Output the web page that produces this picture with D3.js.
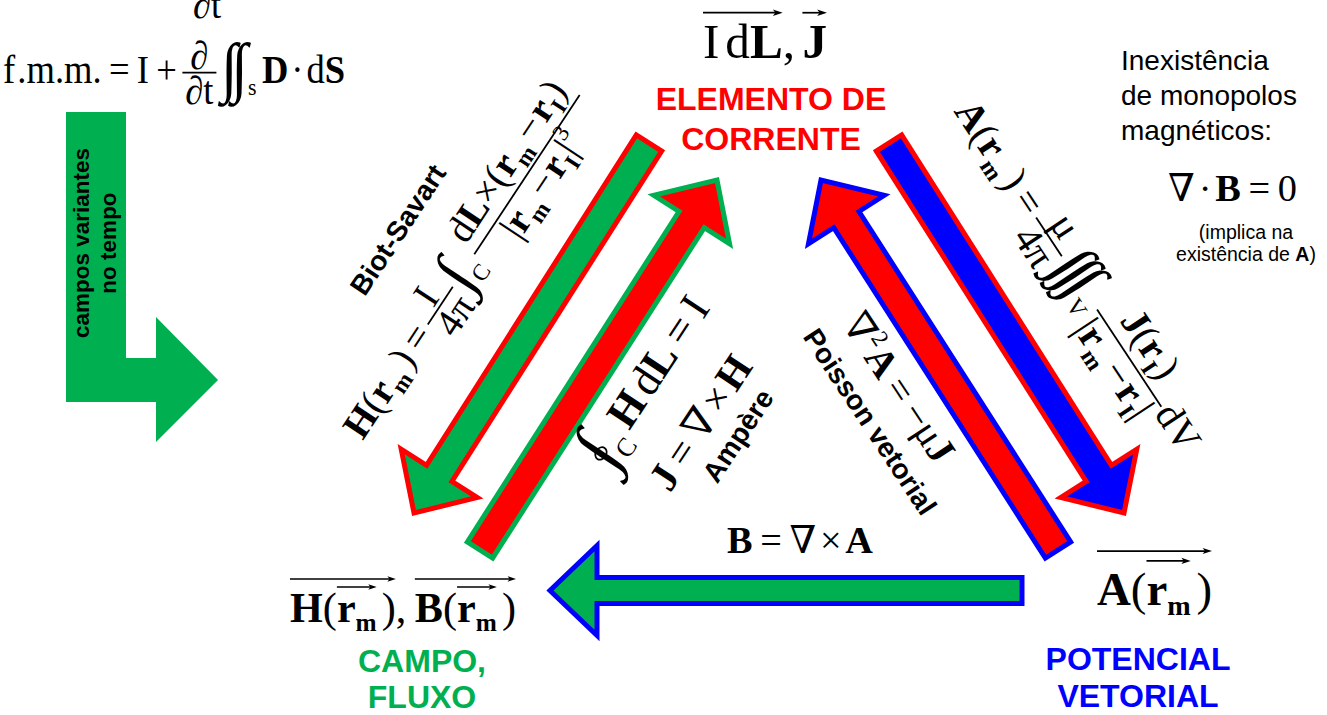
<!DOCTYPE html>
<html>
<head>
<meta charset="utf-8">
<script src="https://cdn.jsdelivr.net/npm/d3@7"></script>
<style>
  html, body { margin: 0; background: #fff; }
  svg { display: block; }
</style>
</head>
<body>
<main></main>
<script>
// ---- content ----
const nodeTitles = {
  corrente: ['ELEMENTO DE', 'CORRENTE'],
  campo: ['CAMPO,', 'FLUXO'],
  potencial: ['POTENCIAL', 'VETORIAL'],
};
const lawNames = ['Biot-Savart', 'Ampère', 'Poisson vetorial'];
const timeVarLines = ['campos variantes', 'no tempo'];
const monopoleLines = ['Inexistência', 'de monopolos', 'magnéticos:'];
const impliesLines = [['(implica na'], ['existência de ', 'A', ')']];

const arrowLinks = [
  ['corrente', 'campo'],
  ['campo', 'corrente'],
  ['potencial', 'corrente'],
  ['corrente', 'potencial'],
  ['potencial', 'campo'],
];

// math tokens: t = text, b = bold, s = relative size, dy = baseline shift (em)
const sub = t => ({ t, b: 1, s: 0.6, dy: 0.22 });
const rm = [{ t: 'r', b: 1 }, sub('m')];
const rI = [{ t: 'r', b: 1 }, sub('I')];
const integ = { t: '∫', s: 1.65, dy: 0.15 };
const integK = { t: '∫', s: 1.65, dy: 0.15, kern: -0.17 };

const sourceVec = [
  { vec: [{ t: 'I' }, { sp: 0.12 }, { t: 'd' }, { t: 'L', b: 1 }], h: 0.92 },
  { t: ',' }, { sp: 0.15 },
  { vec: [{ t: 'J', b: 1 }], h: 0.92 },
];
const fieldVec = [
  { vec: [{ t: 'H', b: 1 }, { t: '(' }, { vec: rm, h: 0.83 }, { sp: 0.12 }, { t: ')' }], h: 1.02 },
  { t: ',' }, { sp: 0.2 },
  { vec: [{ t: 'B', b: 1 }, { t: '(' }, { vec: rm, h: 0.83 }, { sp: 0.12 }, { t: ')' }], h: 1.02 },
];
const potentialVec = [
  { vec: [{ t: 'A', b: 1 }, { t: '(' }, { vec: rm, h: 0.94 }, { sp: 0.12 }, { t: ')' }], h: 1.15 },
];
const fmmEq = [
  { t: 'f' }, { sp: 0.06 }, { t: '.m.m.' }, { sp: 0.2 }, { t: '=' }, { sp: 0.2 }, { t: 'I' },
  { sp: 0.2 }, { t: '+' }, { sp: 0.15 },
  { frac: [[{ t: '∂' }], [{ t: '∂t' }]], nd: 0.02 }, { sp: 0.08 },
  integK, integ, { t: 's', s: 0.6, dy: 0.3 }, { sp: 0.15 },
  { t: 'D', b: 1 }, { sp: 0.08 }, { t: '·' }, { sp: 0.08 }, { t: 'd' }, { t: 'S', b: 1 },
];
const biotSavartEq = [
  { t: 'H', b: 1 }, { t: '(' }, ...rm, { sp: 0.12 }, { t: ')' }, { sp: 0.2 }, { t: '=' }, { sp: 0.15 },
  { frac: [[{ t: 'I' }], [{ t: '4π' }]], nd: 0.04 },
  integ, { t: 'C', s: 0.6, dy: 0.34 }, { sp: 0.1 },
  { frac: [
    [{ t: 'd' }, { t: 'L', b: 1 }, { t: '×' }, { t: '(' }, ...rm, { sp: 0.12 }, { t: '−' }, { sp: 0.05 }, ...rI, { t: ')' }],
    [{ t: '|' }, ...rm, { sp: 0.12 }, { t: '−' }, { sp: 0.05 }, ...rI, { t: '|' }, { t: '3', s: 0.6, dy: -0.45 }],
  ] },
];
const potentialEq = [
  { t: 'A', b: 1 }, { t: '(' }, ...rm, { sp: 0.12 }, { t: ')' }, { sp: 0.2 }, { t: '=' }, { sp: 0.15 },
  { frac: [[{ t: 'μ' }], [{ t: '4π' }]], nd: 0.1 },
  integK, integK, integ, { t: 'V', s: 0.6, dy: 0.34 }, { sp: 0.1 },
  { frac: [
    [{ t: 'J', b: 1 }, { t: '(' }, ...rI, { t: ')' }],
    [{ t: '|' }, ...rm, { sp: 0.12 }, { t: '−' }, { sp: 0.05 }, ...rI, { t: '|' }],
  ] },
  { t: 'dV' },
];
const ampereIntEq = [
  { t: '∫', s: 1.65, dy: 0.15, ring: 1 }, { t: 'C', s: 0.6, dy: 0.34 }, { sp: 0.15 },
  { t: 'H', b: 1 }, { sp: 0.12 }, { t: 'd' }, { t: 'L', b: 1 }, { sp: 0.2 }, { t: '=' }, { sp: 0.2 }, { t: 'I' },
];
const ampereCurlEq = [
  { t: 'J', b: 1 }, { sp: 0.2 }, { t: '=' }, { sp: 0.2 }, { t: '∇' }, { sp: 0.1 }, { t: '×' }, { sp: 0.1 }, { t: 'H', b: 1 },
];
const poissonEq = [
  { t: '∇' }, { t: '2', s: 0.6, dy: -0.42 }, { t: 'A', b: 1 }, { sp: 0.2 }, { t: '=' }, { sp: 0.2 },
  { t: '−' }, { t: 'μ' }, { t: 'J', b: 1 },
];
const curlAEq = [
  { t: 'B', b: 1 }, { sp: 0.2 }, { t: '=' }, { sp: 0.2 }, { t: '∇' }, { sp: 0.1 }, { t: '×' }, { sp: 0.1 }, { t: 'A', b: 1 },
];
const divBEq = [
  { t: '∇' }, { sp: 0.1 }, { t: '·' }, { sp: 0.1 }, { t: 'B', b: 1 }, { sp: 0.2 }, { t: '=' }, { sp: 0.2 }, { t: '0' },
];

// ---- drawing ----
const GREEN = '#00b050';
const RED = '#ff0000';
const BLUE = '#0000ff';
const SERIF = "'Liberation Serif','Times New Roman','DejaVu Serif',serif";
const SANS = "'Liberation Sans',Arial,Helvetica,sans-serif";

const width = 1327;
const height = 715;

const svg = d3
  .select('main')
  .append('svg')
  .attr('width', width)
  .attr('height', height)
  .attr('viewBox', [0, 0, width, height]);

// block arrows
const arrowShape = {
  'corrente-campo': { tail: [649, 143], tip: [414, 513], w: 15, fill: GREEN, edge: RED },
  'campo-corrente': { tail: [480, 550], tip: [717, 180], w: 15, fill: RED, edge: GREEN },
  'potencial-corrente': { tail: [1058, 550], tip: [821, 180], w: 15, fill: RED, edge: BLUE },
  'corrente-potencial': { tail: [889, 143], tip: [1124, 513], w: 15, fill: BLUE, edge: RED },
  'potencial-campo': { tail: [1022, 590.5], tip: [550, 590.5], w: 13, fill: GREEN, edge: BLUE },
};

function blockArrow(s, hw = 45, hl = 47) {
  const [tx, ty] = s.tail;
  const [px, py] = s.tip;
  const len = Math.hypot(px - tx, py - ty);
  const ux = (px - tx) / len;
  const uy = (py - ty) / len;
  const nx = -uy;
  const ny = ux;
  const bx = px - ux * hl;
  const by = py - uy * hl;
  return d3.line()([
    [tx + nx * s.w, ty + ny * s.w],
    [bx + nx * s.w, by + ny * s.w],
    [bx + nx * hw, by + ny * hw],
    [px, py],
    [bx - nx * hw, by - ny * hw],
    [bx - nx * s.w, by - ny * s.w],
    [tx - nx * s.w, ty - ny * s.w],
  ]) + 'Z';
}

svg
  .append('g')
  .selectAll('path')
  .data(arrowLinks)
  .join('path')
  .attr('d', d => blockArrow(arrowShape[d.join('-')]))
  .attr('fill', d => arrowShape[d.join('-')].fill)
  .attr('stroke', d => arrowShape[d.join('-')].edge)
  .attr('stroke-width', 5)
  .attr('stroke-linejoin', 'miter')
  .attr('stroke-miterlimit', 10);

// bent arrow (campos variantes no tempo)
svg
  .append('path')
  .attr('d', d3.line()([
    [66, 112], [126, 112], [126, 358], [156, 358], [156, 317], [218, 380],
    [156, 442], [156, 402], [66, 402],
  ]) + 'Z')
  .attr('fill', GREEN);

svg
  .append('g')
  .attr('transform', 'translate(89,243) rotate(-90)')
  .selectAll('text')
  .data(timeVarLines)
  .join('text')
  .attr('x', 0)
  .attr('y', (d, i) => i * 27)
  .attr('text-anchor', 'middle')
  .attr('font-family', SANS)
  .attr('font-weight', 'bold')
  .attr('font-size', 22.5)
  .attr('fill', '#000')
  .text(d => d);

// ---- tiny math layout ----
function overArrow(g, x0, x1, y, fs) {
  const sw = fs * 0.035;
  const hl = fs * 0.2;
  const hh = fs * 0.065;
  g.append('line')
    .attr('x1', x0).attr('x2', x1 - hl * 0.7)
    .attr('y1', y).attr('y2', y)
    .attr('stroke', '#000').attr('stroke-width', sw);
  g.append('path')
    .attr('d', `M${x1},${y}L${x1 - hl},${y - hh}L${x1 - hl * 0.75},${y}L${x1 - hl},${y + hh}Z`)
    .attr('fill', '#000');
}

function math(g, items, fs) {
  let x = 0;
  items.forEach(it => {
    if (it.sp !== undefined) {
      x += it.sp * fs;
      return;
    }
    if (it.frac) {
      const s = it.s || 1;
      const num = g.append('g');
      const den = g.append('g');
      const wn = math(num, it.frac[0], fs * s);
      const wd = math(den, it.frac[1], fs * s);
      const pad = 0.08 * fs;
      const w = Math.max(wn, wd) + 2 * pad;
      const axis = -0.26 * fs;
      const nd = it.nd === undefined ? 0.24 : it.nd;
      num.attr('transform', `translate(${x + (w - wn) / 2},${axis - 0.07 * fs - nd * fs * s})`);
      den.attr('transform', `translate(${x + (w - wd) / 2},${axis + 0.08 * fs + 0.7 * fs * s})`);
      g.append('line')
        .attr('x1', x).attr('x2', x + w)
        .attr('y1', axis).attr('y2', axis)
        .attr('stroke', '#000').attr('stroke-width', fs * 0.045);
      x += w + 0.05 * fs;
      return;
    }
    if (it.vec) {
      const inner = g.append('g').attr('transform', `translate(${x},0)`);
      const w = math(inner, it.vec, fs);
      overArrow(g, x, x + w, -(it.h || 0.9) * fs, fs);
      x += w;
      return;
    }
    const size = fs * (it.s || 1);
    const t = g
      .append('text')
      .attr('x', x)
      .attr('y', (it.dy || 0) * fs)
      .attr('font-family', SERIF)
      .attr('font-size', size)
      .attr('font-weight', it.b ? 'bold' : null)
      .attr('fill', '#000')
      .text(it.t);
    const w = t.node().getComputedTextLength();
    if (it.ring) {
      g.append('ellipse')
        .attr('cx', x + w / 2).attr('cy', -0.26 * fs)
        .attr('rx', 0.15 * fs).attr('ry', 0.12 * fs)
        .attr('fill', 'none').attr('stroke', '#000').attr('stroke-width', fs * 0.04);
    }
    x += w + (it.kern || 0) * fs;
  });
  return x;
}

// place a formula: centred on (cx, cy) and rotated, or left aligned at (x, y)
function formula(tokens, o) {
  const g = svg.append('g');
  const inner = g.append('g');
  const w = math(inner, tokens, o.fs || 40);
  const k = o.len ? o.len / w : 1;
  if (o.cx !== undefined) {
    g.attr('transform', `translate(${o.cx},${o.cy}) rotate(${o.angle || 0}) scale(${k}) translate(${-w / 2},0)`);
  } else if (o.stretchX) {
    g.attr('transform', `translate(${o.x},${o.y}) scale(${k},1)`);
  } else {
    g.attr('transform', `translate(${o.x},${o.y}) scale(${k})`);
  }
  return k;
}

const UP = -56.5;
const DOWN = 56.5;

const fk = formula(fmmEq, { x: 3, y: 83, len: 342, stretchX: true });
svg.append('text')
  .attr('transform', `translate(193,18) scale(${fk},1)`)
  .attr('font-family', SERIF).attr('font-size', 40).text('∂t');

formula(sourceVec, { x: 703, y: 58, len: 124, fs: 48 });
formula(fieldVec, { x: 290, y: 622, len: 226, fs: 47 });
formula(potentialVec, { x: 1097, y: 605, len: 115, fs: 48 });
formula(divBEq, { x: 1168, y: 201, len: 129, fs: 38 });
formula(curlAEq, { cx: 800, cy: 553, len: 146, fs: 34 });

formula(biotSavartEq, { cx: 476, cy: 270, angle: UP, len: 410 });
formula(potentialEq, { cx: 1067, cy: 283, angle: DOWN, len: 412 });
formula(ampereIntEq, { cx: 658, cy: 388, angle: UP, len: 192 });
formula(ampereCurlEq, { cx: 712, cy: 430, angle: UP, len: 152 });
formula(poissonEq, { cx: 888, cy: 395, angle: DOWN, len: 170 });

// law names along the arrows
const lawPlace = [
  { x: 406, y: 235, a: UP },
  { x: 746, y: 441, a: UP },
  { x: 862, y: 427, a: DOWN },
];
svg
  .append('g')
  .selectAll('text')
  .data(lawNames)
  .join('text')
  .attr('transform', (d, i) => `translate(${lawPlace[i].x},${lawPlace[i].y}) rotate(${lawPlace[i].a})`)
  .attr('text-anchor', 'middle')
  .attr('font-family', SANS)
  .attr('font-weight', 'bold')
  .attr('font-size', 28)
  .attr('fill', '#000')
  .text(d => d);

// node titles
const titlePlace = {
  corrente: { x: 771, y: 110, dy: 40, color: RED },
  campo: { x: 422, y: 672, dy: 36, color: GREEN },
  potencial: { x: 1138, y: 670, dy: 37, color: BLUE },
};
Object.entries(nodeTitles).forEach(([key, lines]) => {
  const p = titlePlace[key];
  svg
    .append('g')
    .selectAll('text')
    .data(lines)
    .join('text')
    .attr('x', p.x)
    .attr('y', (d, i) => p.y + i * p.dy)
    .attr('text-anchor', 'middle')
    .attr('font-family', SANS)
    .attr('font-weight', 'bold')
    .attr('font-size', 32)
    .attr('fill', p.color)
    .text(d => d);
});

// note on the right
svg
  .append('g')
  .selectAll('text')
  .data(monopoleLines)
  .join('text')
  .attr('x', 1121)
  .attr('y', (d, i) => 70 + i * 35)
  .attr('font-family', SANS)
  .attr('font-size', 28)
  .attr('fill', '#000')
  .text(d => d);

svg
  .append('g')
  .selectAll('text')
  .data(impliesLines)
  .join('text')
  .attr('x', 1246)
  .attr('y', (d, i) => 239 + i * 22)
  .attr('text-anchor', 'middle')
  .attr('font-family', SANS)
  .attr('font-size', 19.5)
  .attr('fill', '#000')
  .selectAll('tspan')
  .data(d => d)
  .join('tspan')
  .attr('font-weight', d => (d === 'A' ? 'bold' : null))
  .text(d => d);
</script>
</body>
</html>
